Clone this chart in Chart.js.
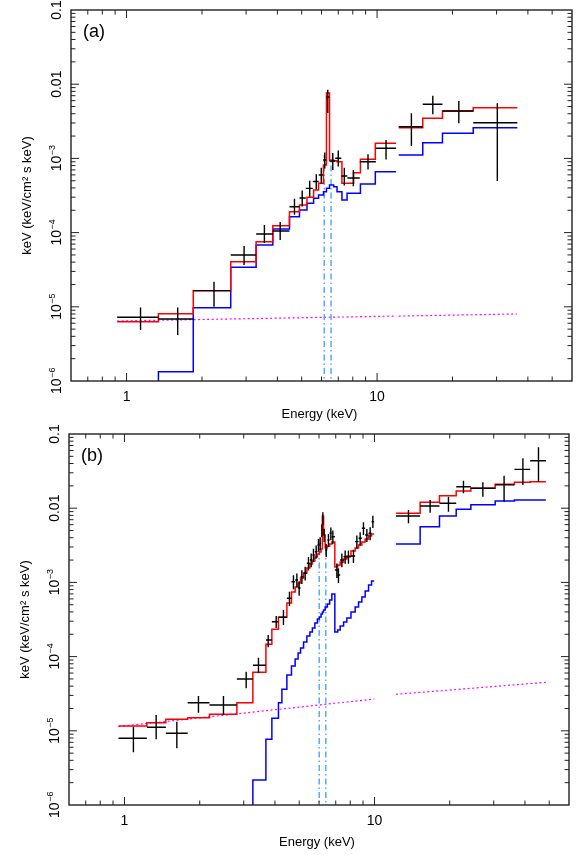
<!DOCTYPE html>
<html lang="en">
<head>
    <meta charset="UTF-8">
    <title>Unfolded spectra</title>
    <script src="https://cdn.jsdelivr.net/npm/chart.js"></script>
    <style>
        body { margin: 0; background: #fff; }
        canvas { position: absolute; left: 0; }
    </style>
</head>
<body>
    <canvas id="chartA" width="579" height="430" style="top:0px"></canvas>
    <canvas id="chartB" width="579" height="437" style="top:418px"></canvas>

    <script>
        // axes
        const X_MIN = 0.6, X_MAX = 60, Y_MIN = 1e-6, Y_MAX = 0.1;
        const xTicks = [1, 10];
        const yTicks = [0.1, 0.01, 1e-3, 1e-4, 1e-5, 1e-6];
        const xTitle = 'Energy (keV)';
        const yTitle = 'keV (keV/cm\u00b2 s keV)';

        // ---- panel (a) ----
        const aLowEdges = [0.917, 1.34, 1.846, 2.605, 3.29, 3.835, 4.47, 4.90, 5.19, 5.54, 5.85, 6.09, 6.27, 6.45, 6.81, 7.20, 7.61, 8.53, 9.89, 11.91];
        const aLowE = [1.137, 1.6, 2.234, 2.945, 3.55, 4.104, 4.68, 5.025, 5.385, 5.718, 5.987, 6.183, 6.356, 6.655, 7.0, 7.40, 8.04, 9.20, 10.86];
        const aLowFlux = [7.22e-6, 6.85e-6, 1.65e-5, 4.99e-5, 9.57e-5, 1.051e-4, 2.23e-4, 2.92e-4, 3.95e-4, 4.89e-4, 5.97e-4, 9.51e-4, 6.72e-3, 9.23e-4, 1.003e-3, 5.79e-4, 5.45e-4, 9.03e-4, 1.368e-3];
        const aLowFluxLo = [4.86e-6, 4.17e-6, 1.0e-5, 3.66e-5, 7.24e-5, 7.94e-5, 1.74e-4, 2.25e-4, 3.05e-4, 3.8e-4, 4.6e-4, 7.3e-4, 4.1e-3, 7.0e-4, 7.8e-4, 4.3e-4, 4.2e-4, 7.1e-4, 9.7e-4];
        const aLowFluxHi = [9.75e-6, 9.8e-6, 2.18e-5, 6.59e-5, 1.264e-4, 1.39e-4, 2.86e-4, 3.7e-4, 5.0e-4, 6.1e-4, 7.5e-4, 1.2e-3, 8.4e-3, 1.18e-3, 1.28e-3, 7.5e-4, 7.0e-4, 1.14e-3, 1.77e-3];

        const aHighEdges = [12.2, 15.22, 18.24, 24.2, 36.3];
        const aHighE = [13.71, 16.69, 21.2, 30.2];
        const aHighFlux = [2.67e-3, 5.36e-3, 4.35e-3, 3.03e-3];
        const aHighFluxLo = [1.469e-3, 3.93e-3, 2.97e-3, 4.96e-4];
        const aHighFluxHi = [4.06e-3, 7.0e-3, 5.94e-3, 5.53e-3];

        const aModelEdges = [0.917, 1.34, 1.846, 2.605, 3.29, 3.835, 4.47, 4.90, 5.25, 5.58, 5.84, 6.11, 6.28, 6.46, 6.71, 6.92, 7.24, 7.59, 8.06, 8.58, 9.84, 11.91];
        const aTotal = [6.3e-6, 8.07e-6, 1.65e-5, 4.06e-5, 7.53e-5, 1.239e-4, 1.914e-4, 2.35e-4, 2.99e-4, 3.75e-4, 4.62e-4, 8.15e-4, 7.6e-3, 9.51e-4, 9.3e-4, 9.03e-4, 4.62e-4, 4.62e-4, 6.41e-4, 9.73e-4, 1.60e-3];
        const aHard = [null, 1.33e-6, 9.73e-6, 3.40e-5, 6.81e-5, 1.12e-4, 1.64e-4, 2.01e-4, 2.48e-4, 2.90e-4, 3.21e-4, 3.56e-4, 3.95e-4, 4.38e-4, 4.16e-4, 3.56e-4, 2.75e-4, 3.39e-4, 3.39e-4, 4.52e-4, 6.62e-4];
        const aTotalHigh = [2.59e-3, 3.47e-3, 4.35e-3, 4.82e-3];
        const aHardHigh = [1.112e-3, 1.63e-3, 2.18e-3, 2.59e-3];
        const aSoftE = [0.917, 11.91, 12.05, 12.2, 36.3];
        const aSoftFlux = [6.44e-6, 7.5e-6, null, 7.5e-6, 8.0e-6];
        const aLineE = [6.15, 6.55];
        const aLineTop = [1.1e-3, 1.0e-3];

        // ---- panel (b) ----
        const bLowEdges = [0.946, 1.229, 1.464, 1.79, 2.188, 2.816, 3.263, 3.679, 3.887, 4.13, 4.463, 4.656, 4.817, 4.948, 5.063, 5.205, 5.366, 5.516, 5.645, 5.776, 5.911, 6.020, 6.115, 6.189, 6.258, 6.351, 6.479, 6.618, 6.753, 6.942, 7.126, 7.292, 7.524, 7.755, 8.054, 8.372, 8.638, 8.905, 9.179, 9.471, 9.737, 9.972];
        const bLowE = [1.086, 1.339, 1.62, 1.977, 2.489, 3.068, 3.436, 3.757, 4.045, 4.325, 4.571, 4.742, 4.893, 4.998, 5.124, 5.282, 5.445, 5.582, 5.702, 5.845, 5.970, 6.065, 6.161, 6.218, 6.293, 6.410, 6.546, 6.693, 6.817, 7.073, 7.178, 7.406, 7.634, 7.870, 8.241, 8.503, 8.765, 9.036, 9.324, 9.612, 9.854];
        const bLowFlux = [7.92e-6, 1.114e-5, 9.25e-6, 2.39e-5, 2.23e-5, 4.99e-5, 7.63e-5, 1.675e-4, 2.95e-4, 3.39e-4, 6.11e-4, 1.021e-3, 1.077e-3, 8.41e-4, 1.194e-3, 1.327e-3, 1.808e-3, 2.004e-3, 2.34e-3, 2.59e-3, 3.19e-3, 3.37e-3, 5.08e-3, 7.31e-3, 4.35e-3, 2.73e-3, 3.73e-3, 4.59e-3, 4.13e-3, 1.469e-3, 1.259e-3, 2.004e-3, 2.22e-3, 2.22e-3, 2.27e-3, 3.54e-3, 3.93e-3, 5.36e-3, 4.35e-3, 4.59e-3, 6.58e-3];
        const bLowFluxLo = [5.13e-6, 7.68e-6, 5.81e-6, 1.75e-5, 1.633e-5, 3.74e-5, 6.07e-5, 1.334e-4, 2.43e-4, 2.67e-4, 4.8e-4, 8.1e-4, 8.6e-4, 6.6e-4, 9.5e-4, 1.06e-3, 1.45e-3, 1.6e-3, 1.88e-3, 2.08e-3, 2.58e-3, 2.72e-3, 4.1e-3, 6.0e-3, 3.5e-3, 2.2e-3, 3.0e-3, 3.7e-3, 3.3e-3, 1.15e-3, 9.8e-4, 1.6e-3, 1.78e-3, 1.78e-3, 1.82e-3, 2.85e-3, 3.15e-3, 4.35e-3, 3.5e-3, 3.7e-3, 5.4e-3];
        const bLowFluxHi = [1.135e-5, 1.633e-5, 1.327e-5, 2.94e-5, 2.94e-5, 6.26e-5, 9.66e-5, 1.955e-4, 3.52e-4, 4.25e-4, 7.5e-4, 1.25e-3, 1.32e-3, 1.04e-3, 1.46e-3, 1.62e-3, 2.2e-3, 2.45e-3, 2.85e-3, 3.15e-3, 3.85e-3, 4.07e-3, 6.1e-3, 8.8e-3, 5.3e-3, 3.3e-3, 4.5e-3, 5.5e-3, 5.0e-3, 1.8e-3, 1.55e-3, 2.45e-3, 2.7e-3, 2.7e-3, 2.76e-3, 4.3e-3, 4.75e-3, 6.45e-3, 5.25e-3, 5.55e-3, 7.9e-3];

        const bHighEdges = [12.18, 15.23, 18.2, 21.23, 24.3, 30.4, 36.3, 41.96, 48.5];
        const bHighE = [13.68, 16.70, 19.77, 22.7, 27.14, 33.0, 39.24, 45.3];
        const bHighFlux = [7.85e-3, 1.071e-2, 1.164e-2, 1.95e-2, 1.855e-2, 2.06e-2, 3.34e-2, 4.37e-2];
        const bHighFluxLo = [6.26e-3, 8.69e-3, 8.97e-3, 1.588e-2, 1.429e-2, 1.224e-2, 2.06e-2, 2.28e-2];
        const bHighFluxHi = [9.46e-3, 1.29e-2, 1.429e-2, 2.35e-2, 2.23e-2, 2.74e-2, 4.70e-2, 6.62e-2];

        const bModelEdges = [0.946, 1.229, 1.464, 1.79, 2.188, 2.816, 3.263, 3.679, 3.887, 4.13, 4.263, 4.463, 4.656, 4.817, 4.948, 5.063, 5.205, 5.366, 5.516, 5.645, 5.776, 5.911, 6.020, 6.115, 6.189, 6.258, 6.351, 6.479, 6.618, 6.753, 6.942, 7.126, 7.292, 7.524, 7.755, 8.054, 8.372, 8.638, 8.905, 9.179, 9.471, 9.737, 9.972];
        const bTotal = [1.161e-5, 1.285e-5, 1.429e-5, 1.503e-5, 1.668e-5, 2.39e-5, 6.14e-5, 1.465e-4, 2.33e-4, 3.39e-4, 3.39e-4,
            5.27e-4, 7.43e-4, 8.67e-4, 9.82e-4, 1.146e-3, 1.339e-3, 1.563e-3, 1.770e-3, 1.943e-3, 2.20e-3, 2.41e-3, 2.57e-3, 2.82e-3, 7.85e-3, 4.35e-3,
            2.91e-3, 3.10e-3, 3.29e-3, 3.50e-3, 1.614e-3, 1.717e-3, 1.884e-3, 2.07e-3, 2.27e-3, 2.65e-3, 2.91e-3, 3.19e-3, 3.50e-3, 3.85e-3, 4.22e-3, 4.49e-3];
        const bHard = [null, null, null, null, null, null, 2.17e-6, 7.68e-6, 1.473e-5, 2.39e-5, 3.62e-5,
            5.65e-5, 7.46e-5, 9.29e-5, 1.119e-4, 1.306e-4, 1.574e-4, 1.897e-4, 2.15e-4, 2.43e-4, 2.84e-4, 3.21e-4, 3.42e-4, 3.75e-4, 3.99e-4, 4.25e-4,
            4.66e-4, 5.12e-4, 5.79e-4, 7.0e-4, 2.15e-4, 2.28e-4, 2.58e-4, 2.92e-4, 3.31e-4, 3.99e-4, 4.66e-4, 5.45e-4, 6.35e-4, 7.66e-4, 9.23e-4, 1.045e-3];
        const bTotalHigh = [8.53e-3, 1.201e-2, 1.474e-2, 1.706e-2, 1.855e-2, 2.10e-2, 2.23e-2, 2.28e-2];
        const bHardHigh = [3.29e-3, 5.63e-3, 7.85e-3, 9.66e-3, 1.115e-2, 1.25e-2, 1.29e-2, 1.29e-2];
        const bSoftE = [0.946, 9.972, 11, 12.18, 48.5];
        const bSoftFlux = [1.14e-5, 2.68e-5, null, 3.1e-5, 4.5e-5];
        const bLineE = [6.01, 6.39];
        const bLineTop = [3.6e-3, 3.6e-3];

        const FLOOR = 1e-9; // below the plot, for steps rising from the bottom edge
        const FONT = '"Liberation Sans", Arial, sans-serif';

        // histogram as stepped line: left edge carries the bin value
        function steps(edges, vals) {
            const pts = [];
            let prev = null;
            vals.forEach((v, i) => {
                if (v === null) {
                    if (prev !== null) pts.push({x: edges[i], y: prev}, {x: edges[i], y: null});
                    prev = null;
                    return;
                }
                if (prev === null && i > 0) pts.push({x: edges[i], y: FLOOR});
                pts.push({x: edges[i], y: v});
                prev = v;
            });
            if (prev !== null) pts.push({x: edges[edges.length - 1], y: prev});
            return pts;
        }

        function crosses(edges, e, f, lo, hi) {
            return e.map((v, i) => ({x: v, y: f[i], xlo: edges[i], xhi: edges[i + 1], ylo: lo[i], yhi: hi[i]}));
        }

        function verticals(es, tops) {
            const pts = [];
            es.forEach((e, i) => {
                if (i > 0) pts.push({x: e, y: null});
                pts.push({x: e, y: FLOOR}, {x: e, y: tops[i]});
            });
            return pts;
        }

        const crossPlugin = {
            id: 'crosses',
            afterDatasetsDraw(chart) {
                const {ctx, chartArea: ca, scales: {x, y}} = chart;
                ctx.save();
                ctx.beginPath();
                ctx.rect(ca.left, ca.top, ca.right - ca.left, ca.bottom - ca.top);
                ctx.clip();
                ctx.strokeStyle = '#000';
                ctx.lineWidth = 1.4;
                ctx.beginPath();
                chart.data.datasets.forEach(ds => {
                    if (!ds.errorBars) return;
                    ds.data.forEach(p => {
                        const px = x.getPixelForValue(p.x), py = y.getPixelForValue(p.y);
                        ctx.moveTo(x.getPixelForValue(p.xlo), py);
                        ctx.lineTo(x.getPixelForValue(p.xhi), py);
                        ctx.moveTo(px, y.getPixelForValue(p.ylo));
                        ctx.lineTo(px, y.getPixelForValue(p.yhi));
                    });
                });
                ctx.stroke();
                ctx.restore();
            }
        };

        function yTickParts(v) {
            if (v >= 0.01) return [String(v), ''];
            return ['10', '\u2212' + Math.round(-Math.log10(v))];
        }

        const framePlugin = {
            id: 'frame',
            afterDraw(chart, args, opts) {
                const {ctx, chartArea: ca, scales: {x, y}} = chart;
                ctx.save();
                ctx.strokeStyle = '#222';
                ctx.lineWidth = 1;
                ctx.beginPath();
                for (let d = -1; d <= 1; d++) {
                    for (let m = 1; m <= 9; m++) {
                        const v = m * Math.pow(10, d);
                        if (v <= X_MIN * 1.001 || v >= X_MAX * 0.999) continue;
                        const px = x.getPixelForValue(v);
                        const len = m === 1 ? 8 : 4.5;
                        ctx.moveTo(px, ca.bottom); ctx.lineTo(px, ca.bottom - len);
                        ctx.moveTo(px, ca.top); ctx.lineTo(px, ca.top + len);
                    }
                }
                for (let d = -6; d <= -2; d++) {
                    for (let m = 1; m <= 9; m++) {
                        const v = m * Math.pow(10, d);
                        if (v <= Y_MIN * 1.001 || v >= Y_MAX * 0.999) continue;
                        const py = y.getPixelForValue(v);
                        const len = m === 1 ? 8 : 4.5;
                        ctx.moveTo(ca.left, py); ctx.lineTo(ca.left + len, py);
                        ctx.moveTo(ca.right, py); ctx.lineTo(ca.right - len, py);
                    }
                }
                ctx.stroke();
                ctx.lineWidth = 1.4;
                ctx.strokeRect(ca.left, ca.top, ca.right - ca.left, ca.bottom - ca.top);

                ctx.fillStyle = '#000';
                ctx.font = '14px ' + FONT;
                ctx.textAlign = 'center';
                ctx.textBaseline = 'alphabetic';
                xTicks.forEach(v => ctx.fillText(String(v), x.getPixelForValue(v), ca.bottom + 19.5));
                ctx.font = '13px ' + FONT;
                ctx.fillText(xTitle, (ca.left + ca.right) / 2 - 2, ca.bottom + opts.titleGap);

                // rotated y tick labels
                yTicks.forEach(v => {
                    const [base, sup] = yTickParts(v);
                    ctx.save();
                    ctx.translate(ca.left - 10.5, y.getPixelForValue(v));
                    ctx.rotate(-Math.PI / 2);
                    ctx.textAlign = 'left';
                    ctx.font = '14px ' + FONT;
                    const wb = ctx.measureText(base).width;
                    ctx.font = '9px ' + FONT;
                    const ws = sup ? ctx.measureText(sup).width : 0;
                    const x0 = -(wb + ws) / 2;
                    ctx.font = '14px ' + FONT;
                    ctx.fillText(base, x0, 0);
                    if (sup) {
                        ctx.font = '9px ' + FONT;
                        ctx.fillText(sup, x0 + wb + 0.5, -6);
                    }
                    ctx.restore();
                });

                ctx.save();
                ctx.translate(ca.left - 40.5, (ca.top + ca.bottom) / 2);
                ctx.rotate(-Math.PI / 2);
                ctx.textAlign = 'center';
                ctx.font = '13px ' + FONT;
                ctx.fillText(yTitle, 0, 0);
                ctx.restore();

                ctx.textAlign = 'left';
                ctx.font = '18px ' + FONT;
                ctx.fillText(opts.label, ca.left + 12, ca.top + 27);
                ctx.restore();
            }
        };

        function makePanel(id, padding, label, titleGap, p) {
            const line = (data, color, order, extra) => Object.assign({
                type: 'line', data: data, borderColor: color, borderWidth: 1.5,
                pointRadius: 0, fill: false, stepped: 'before', order: order
            }, extra || {});
            new Chart(document.getElementById(id), {
                type: 'line',
                data: {
                    datasets: [
                        line(crosses(p.lowEdges, p.lowE, p.lowFlux, p.lowLo, p.lowHi), 'rgba(0,0,0,0)', 1, {errorBars: true, showLine: false}),
                        line(crosses(p.highEdges, p.highE, p.highFlux, p.highLo, p.highHi), 'rgba(0,0,0,0)', 1, {errorBars: true, showLine: false}),
                        line(steps(p.modelEdges, p.total), '#ff0000', 2),
                        line(steps(p.highEdges, p.totalHigh), '#ff0000', 2),
                        line(steps(p.modelEdges, p.hard), '#0000ff', 3),
                        line(steps(p.highEdges, p.hardHigh), '#0000ff', 3),
                        line(verticals(p.lineE, p.lineTop), '#3d9dff', 4, {stepped: false, borderWidth: 1.3, borderDash: [6, 3, 1.5, 3]}),
                        line(p.softE.map((e, i) => ({x: e, y: p.softFlux[i]})), '#ff00ff', 5, {stepped: false, borderWidth: 1.2, borderDash: [2, 2.5]})
                    ]
                },
                options: {
                    responsive: false,
                    animation: false,
                    devicePixelRatio: 1,
                    layout: {padding: padding},
                    plugins: {
                        legend: {display: false},
                        tooltip: {enabled: false},
                        frame: {label: label, titleGap: titleGap}
                    },
                    scales: {
                        x: {type: 'logarithmic', min: X_MIN, max: X_MAX, display: false},
                        y: {type: 'logarithmic', min: Y_MIN, max: Y_MAX, display: false}
                    }
                },
                plugins: [crossPlugin, framePlugin]
            });
        }

        makePanel('chartA', {left: 71, top: 10, right: 7, bottom: 49}, '(a)', 37, {
            lowEdges: aLowEdges, lowE: aLowE, lowFlux: aLowFlux, lowLo: aLowFluxLo, lowHi: aLowFluxHi,
            highEdges: aHighEdges, highE: aHighE, highFlux: aHighFlux, highLo: aHighFluxLo, highHi: aHighFluxHi,
            modelEdges: aModelEdges, total: aTotal, hard: aHard, totalHigh: aTotalHigh, hardHigh: aHardHigh,
            softE: aSoftE, softFlux: aSoftFlux, lineE: aLineE, lineTop: aLineTop
        });

        makePanel('chartB', {left: 69, top: 16, right: 10, bottom: 50}, '(b)', 41, {
            lowEdges: bLowEdges, lowE: bLowE, lowFlux: bLowFlux, lowLo: bLowFluxLo, lowHi: bLowFluxHi,
            highEdges: bHighEdges, highE: bHighE, highFlux: bHighFlux, highLo: bHighFluxLo, highHi: bHighFluxHi,
            modelEdges: bModelEdges, total: bTotal, hard: bHard, totalHigh: bTotalHigh, hardHigh: bHardHigh,
            softE: bSoftE, softFlux: bSoftFlux, lineE: bLineE, lineTop: bLineTop
        });
    </script>
</body>
</html>
